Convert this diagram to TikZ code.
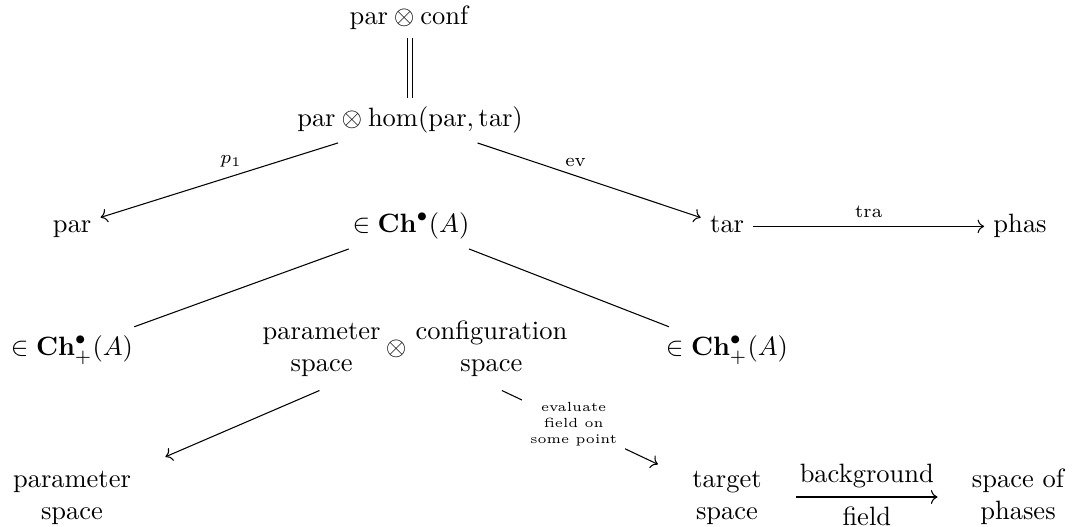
\documentclass[tikz,border=0pt]{standalone}
\usepackage{amsmath}
\usetikzlibrary{cd}
\begin{document}
\begin{tikzpicture}[x=0.3774pt, y=-0.3774pt,
  obj/.style={anchor=base, text height=7.5pt, text depth=2.5pt},
  stack/.style={inner xsep=12.8pt},
  lbl/.style={font=\scriptsize},
  arr/.style={-{cm to}},
  equal/.style={double, double distance=1.6pt}]
\path[use as bounding box] (0,0) rectangle (1085,527);

% objects
\node[obj, inner ysep=0pt, text height=6.94pt, text depth=1.94pt] (conf) at (410,25) {$\mathrm{par}\otimes\mathrm{conf}$};
\node[obj] (hom)  at (410,127) {$\mathrm{par}\otimes\hom(\mathrm{par},\mathrm{tar})$};
\node[obj] (par)  at (72,233) {$\mathrm{par}$};
\node[obj] (ch)   at (411,233) {$\in\mathbf{Ch}^\bullet(A)$};
\node[obj] (tar)  at (727,233) {$\mathrm{tar}$};
\node[obj] (phas) at (1020,233) {$\mathrm{phas}$};
\node[obj] (chl)  at (72,356) {$\in\mathbf{Ch}^\bullet_+(A)$};
\node[anchor=base] (pc) at (415,356)
  {\begin{tabular}{@{}c@{}}parameter\\space\end{tabular}\kern2pt$\otimes$\kern3.4pt\begin{tabular}{@{}c@{}}configuration\\space\end{tabular}};
\node[obj] (chr)  at (727,356) {$\in\mathbf{Ch}^\bullet_+(A)$};
\node[stack] (ps) at (72,497) {\begin{tabular}{@{}c@{}}parameter\\space\end{tabular}};
\node[stack] (ts) at (727,497) {\begin{tabular}{@{}c@{}}target\\space\end{tabular}};
\node[stack] (sp) at (1018,497) {\begin{tabular}{@{}c@{}}space of\\phases\end{tabular}};

% maps
\draw[equal, shorten <=2.6pt] (conf) -- (hom);
\draw[arr] (hom) -- node[lbl, above, pos=0.45] {$p_1$} (par);
\draw[arr] (hom) -- node[lbl, above, pos=0.44] {$\mathrm{ev}$} (tar);
\draw[arr] (tar) -- node[lbl, above] {$\mathrm{tra}$} (phas);
\draw (ch) -- (chl);
\draw (ch) -- (chr);
\draw[arr] (pc) -- (ps);
\draw[arr] (pc) -- node[pos=0.46, fill=white, font=\tiny, align=center, inner sep=3pt]
  {evaluate\\field on\\some point} (ts);
\draw[arr] (ts) -- node[above] {background} node[below] {field} (sp);
\end{tikzpicture}
\end{document}
